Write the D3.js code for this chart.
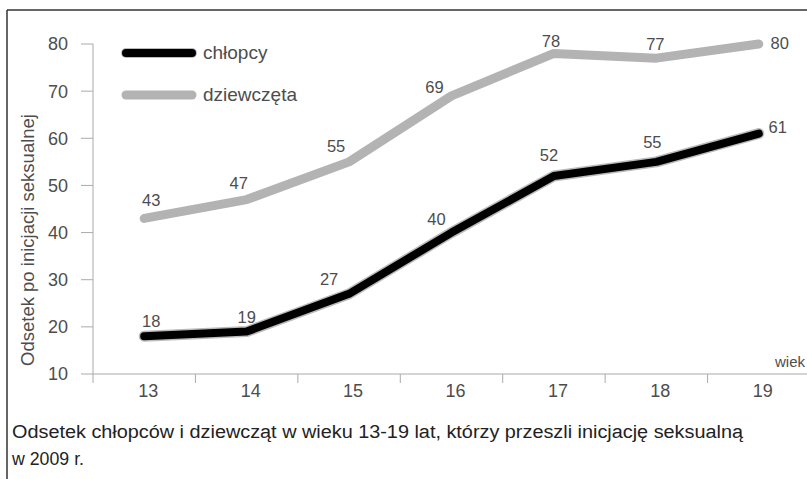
<!DOCTYPE html>
<html><head><meta charset="utf-8">
<script src="https://cdn.jsdelivr.net/npm/d3@7"></script>
<style>
html,body{margin:0;padding:0;background:#fff;}
svg{display:block;}
</style></head>
<body>
<svg id="c" width="807" height="479"></svg>
<script>
const ages = ["13","14","15","16","17","18","19"];
const boys = [18,19,27,40,52,55,61];
const girls = [43,47,55,69,78,77,80];
const yTicks = [10,20,30,40,50,60,70,80];
const seriesNames = ["chłopcy","dziewczęta"];
// label offsets (layout only)
const boysLabelDx = [7,0,-20,-15,-5,-4,19];
const boysLabelDy = [-15,-15,-15,-14,-21,-20,-7];
const girlsLabelDx = [7,-8,-13,-17,-3,-1,21];
const girlsLabelDy = [-18,-17,-16,-9,-12,-14,-1];

const FONT = "Liberation Sans, Arial, sans-serif";
const TXT = "#4d4d4d";
const svg = d3.select("#c");
const x = d3.scaleBand().domain(ages).range([93, 810]);
const y = d3.scaleLinear().domain([10,80]).range([374,44]);
const cx = a => x(a) + x.bandwidth()/2;

// frame
svg.append("line").attr("x1",7).attr("x2",807).attr("y1",10).attr("y2",10).attr("stroke","#333").attr("stroke-width",1.5);
svg.append("line").attr("x1",7).attr("x2",7).attr("y1",10).attr("y2",479).attr("stroke","#333").attr("stroke-width",1.5);

const axisCol = "#aaa";
// y axis
svg.append("line").attr("x1",93).attr("x2",93).attr("y1",y(80)).attr("y2",y(10)).attr("stroke",axisCol).attr("stroke-width",1);
yTicks.forEach(t=>{
  svg.append("line").attr("x1",81).attr("x2",93).attr("y1",y(t)).attr("y2",y(t)).attr("stroke",axisCol);
  svg.append("text").attr("x",68).attr("y",y(t)).attr("dy","0.36em").attr("text-anchor","end")
    .attr("font-family",FONT).attr("font-size",18).attr("fill",TXT).text(t);
});
// x axis
svg.append("line").attr("x1",93).attr("x2",807).attr("y1",y(10)).attr("y2",y(10)).attr("stroke",axisCol);
ages.forEach(a=>{
  svg.append("line").attr("x1",x(a)).attr("x2",x(a)).attr("y1",y(10)).attr("y2",y(10)+9).attr("stroke",axisCol);
  svg.append("text").attr("x",cx(a)+4).attr("y",391).attr("dy","0.36em").attr("text-anchor","middle")
    .attr("font-family",FONT).attr("font-size",18).attr("fill",TXT).text(a);
});
svg.append("text").attr("x",775).attr("y",367).attr("font-family",FONT)
  .attr("font-size",15).attr("fill",TXT).text("wiek");

// y label
svg.append("text").attr("transform","translate(28,240) rotate(-90)").attr("dy","0.35em").attr("text-anchor","middle")
  .attr("font-family",FONT).attr("font-size",18.5).attr("fill",TXT)
  .text("Odsetek po inicjacji seksualnej");

const line = d3.line().x((d,i)=>cx(ages[i])).y(d=>y(d));
// girls
svg.append("path").attr("d",line(girls)).attr("fill","none").attr("stroke","#b3b3b3").attr("stroke-width",9)
  .attr("stroke-linecap","round").attr("stroke-linejoin","round");
// boys halo + line
svg.append("path").attr("d",line(boys)).attr("fill","none").attr("stroke","#bbb").attr("stroke-width",11)
  .attr("stroke-linecap","round").attr("stroke-linejoin","round");
svg.append("path").attr("d",line(boys)).attr("fill","none").attr("stroke","#000").attr("stroke-width",8)
  .attr("stroke-linecap","round").attr("stroke-linejoin","round");

// value labels
function labels(vals, dxs, dys){
  vals.forEach((v,i)=>{
    svg.append("text").attr("x",cx(ages[i])+dxs[i]).attr("y",y(v)+dys[i]).attr("dy","0.36em")
      .attr("text-anchor","middle").attr("font-family",FONT)
      .attr("font-size",16.5).attr("fill",TXT).text(v);
  });
}
labels(boys, boysLabelDx, boysLabelDy);
labels(girls, girlsLabelDx, girlsLabelDy);

// legend
const lg = [{c:"#000",w:8,y:53,halo:true},{c:"#b3b3b3",w:9,y:95,halo:false}];
lg.forEach((l,i)=>{
  if(l.halo) svg.append("line").attr("x1",126).attr("x2",192).attr("y1",l.y).attr("y2",l.y).attr("stroke","#bbb").attr("stroke-width",10).attr("stroke-linecap","round");
  svg.append("line").attr("x1",126).attr("x2",192).attr("y1",l.y).attr("y2",l.y).attr("stroke",l.c).attr("stroke-width",l.w).attr("stroke-linecap","round");
  svg.append("text").attr("x",203).attr("y",l.y).attr("dy","0.32em").attr("font-family",FONT)
    .attr("font-size",19).attr("fill",TXT).text(seriesNames[i]);
});

// caption
svg.append("text").attr("x",12).attr("y",438).attr("font-family","Liberation Sans Narrow, Arial Narrow, sans-serif")
  .attr("font-size",18).attr("fill","#222").attr("textLength",731).attr("lengthAdjust","spacingAndGlyphs")
  .text("Odsetek chłopców i dziewcząt w wieku 13-19 lat, którzy przeszli inicjację seksualną");
svg.append("text").attr("x",12).attr("y",465).attr("font-family","Liberation Sans Narrow, Arial Narrow, sans-serif")
  .attr("font-size",18).attr("fill","#222").attr("textLength",72).attr("lengthAdjust","spacingAndGlyphs").text("w 2009 r.");
</script>
</body></html>
